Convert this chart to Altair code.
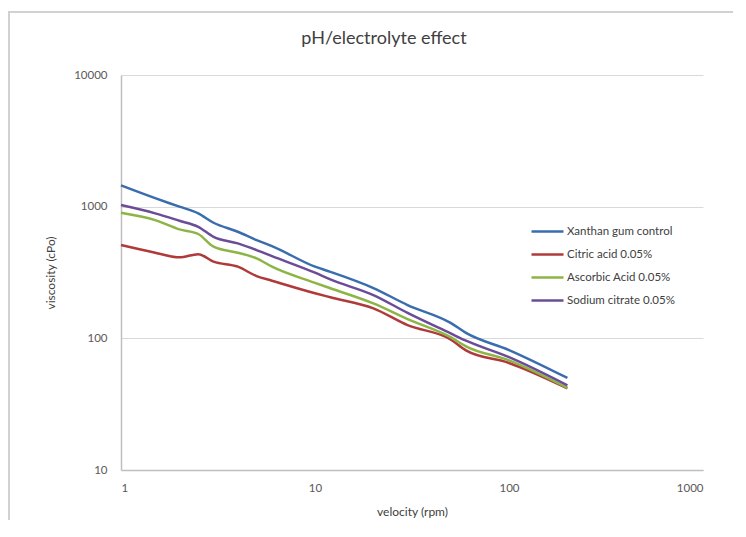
import altair as alt
import pandas as pd

speeds = [1, 1.5, 2, 2.5, 3, 4, 5, 6, 10, 12, 20, 30, 50, 60, 100, 200]
series_names = ["Xanthan gum control", "Citric acid 0.05%", "Ascorbic Acid 0.05%", "Sodium citrate 0.05%"]
xanthan = [1450, 1160, 1000, 890, 755, 645, 557, 502, 350, 320, 241, 179, 131, 110, 81.5, 50]
citric = [511, 447, 412, 436, 382, 350, 297, 274, 220, 205, 169, 126, 98, 81, 65, 41.7]
ascorbic = [899, 790, 672, 620, 497, 447, 405, 350, 264, 240, 184, 140, 102, 87, 68, 42]
sodium = [1028, 889, 781, 703, 590, 526, 468, 421, 315, 280, 213, 156, 109, 96, 72, 44]
colors = ["#3A6DAE", "#B03A3A", "#8CB545", "#6A4C97"]
x_ticks = [1, 10, 100, 1000]
y_ticks = [10, 100, 1000, 10000]

rows = []
for name, vals in zip(series_names, [xanthan, citric, ascorbic, sodium]):
    for s, v in zip(speeds, vals):
        rows.append({"series": name, "velocity": s, "viscosity": v})
df = pd.DataFrame(rows)

FONT = "Lato"

lines = alt.Chart(df).mark_line(strokeWidth=2.5, interpolate="monotone").encode(
    x=alt.X("velocity:Q",
            scale=alt.Scale(type="log", domain=[1, 1000]),
            axis=alt.Axis(title="velocity (rpm)", values=x_ticks, format="d", grid=False,
                          ticks=False, labelPadding=12, domainColor="#BFBFBF", domainWidth=1.5,
                          labelFont=FONT, labelFontSize=11.5, labelColor="#595959",
                          titleFont=FONT, titleFontSize=12, titleFontWeight="normal",
                          titleColor="#404040", titlePadding=13)),
    y=alt.Y("viscosity:Q",
            scale=alt.Scale(type="log", domain=[10, 10000]),
            axis=alt.Axis(title="viscosity (cPo)", values=y_ticks, format="d", grid=True,
                          gridColor="#D9D9D9", gridWidth=1.2, ticks=False, labelPadding=14,
                          domainColor="#BFBFBF", domainWidth=1.5,
                          labelFont=FONT, labelFontSize=11.5, labelColor="#595959",
                          titleFont=FONT, titleFontSize=12, titleFontWeight="normal",
                          titleColor="#404040", titlePadding=16)),
    color=alt.Color("series:N",
                    scale=alt.Scale(domain=series_names, range=colors),
                    sort=series_names,
                    legend=alt.Legend(title=None, orient="none", legendX=417, legendY=147,
                                      symbolType="M-2,0H2", symbolSize=256,
                                      symbolStrokeWidth=2.5, labelOffset=10, rowPadding=8,
                                      labelFont=FONT, labelFontSize=11.5, labelColor="#404040")),
)

top_border = alt.Chart(df).mark_rule(color="#D0D0D0", strokeWidth=1.5).encode(
    x=alt.value(-113), x2=alt.value(620), y=alt.value(-63))
left_border = alt.Chart(df).mark_rule(color="#D0D0D0", strokeWidth=1.5).encode(
    x=alt.value(-112), y=alt.value(-63), y2=alt.value(460))

chart = alt.layer(top_border, left_border, lines).properties(
    width=582, height=395,
    title=alt.TitleParams("pH/electrolyte effect", font=FONT, fontSize=18, fontWeight="normal",
                          color="#404040", anchor="middle", frame="group", dx=-28, offset=-37),
    autosize=alt.AutoSizeParams(type="none"),
    padding={"left": 113, "top": 67, "right": 30, "bottom": 50},
).configure_view(stroke=None)

chart.save("out.html", embed_options={"renderer": "svg", "actions": False})
